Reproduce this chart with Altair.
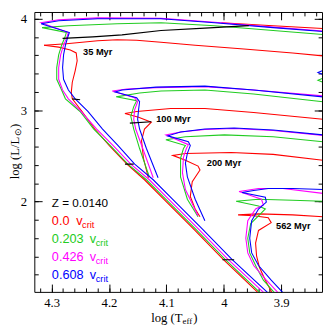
import altair as alt
import pandas as pd

# ---------------- axis ranges and ticks ----------------
T_DOMAIN = [3.829, 4.33]          # log Teff (drawn reversed)
L_DOMAIN = [1.0118, 4.0747]       # log L/Lsun
T_MAJOR = [4.3, 4.2, 4.1, 4.0, 3.9]
T_MINOR = [4.32, 4.30, 4.28, 4.26, 4.24, 4.22, 4.20, 4.18, 4.16, 4.14, 4.12, 4.10, 4.08,
           4.06, 4.04, 4.02, 4.00, 3.98, 3.96, 3.94, 3.92, 3.90, 3.88, 3.86, 3.84]
L_MAJOR = [2, 3, 4]
L_MINOR = [1.2, 1.4, 1.6, 1.8, 2.0, 2.2, 2.4, 2.6, 2.8, 3.0, 3.2, 3.4, 3.6, 3.8, 4.0]

# ---------------- isochrones: 35 Myr ----------------
R35_T = [3.9328, 4.0007, 4.0550, 4.1060, 4.1382, 4.1688, 4.1994, 4.2248, 4.2469, 4.2639, 4.2656, 4.2639, 4.2588, 4.2554, 4.2571, 4.2673, 4.2876, 4.3131]
R35_L = [0.9584, 1.3639, 1.7161, 2.0363, 2.2390, 2.4098, 2.6126, 2.7940, 2.9861, 3.1248, 3.1995, 3.3062, 3.4343, 3.5410, 3.6264, 3.6584, 3.6904, 3.7118]
R35X_T = [4.3131, 4.2741, 4.2197, 4.1858, 4.1518, 4.1094, 4.0499, 3.9650, 3.8802, 3.8275]
R35X_L = [3.7118, 3.7278, 3.7598, 3.7705, 3.7651, 3.7438, 3.7118, 3.6691, 3.6264, 3.5944]
R35U_T = [4.0041, 3.9141, 3.8275]
R35U_L = [3.9572, 3.9252, 3.8932]
G35_T = [3.9294, 3.9973, 4.0516, 4.1026, 4.1348, 4.1671, 4.1977, 4.2265, 4.2503, 4.2758, 4.2825, 4.2910, 4.2910, 4.2876, 4.2825, 4.2774, 4.2741, 4.3165, 4.2707, 4.1858, 4.1094, 4.0160, 3.9141, 3.8275]
G35_L = [0.9584, 1.3639, 1.7161, 2.0363, 2.2390, 2.4098, 2.6126, 2.7940, 2.9861, 3.1248, 3.2209, 3.3383, 3.4663, 3.6051, 3.7118, 3.7865, 3.8505, 3.9039, 3.9252, 3.9466, 3.9572, 3.9252, 3.8719, 3.8292]
M35_T = [3.9226, 3.9922, 4.0465, 4.0975, 4.1297, 4.1620, 4.1926, 4.2214, 4.2486, 4.2707, 4.2808, 4.2876, 4.2876, 4.2842, 4.2791, 4.2741, 4.2707, 4.3182, 4.2876, 4.2197, 4.1094, 4.0160, 3.9141, 3.8275]
M35_L = [0.9584, 1.3639, 1.7161, 2.0363, 2.2390, 2.4098, 2.6126, 2.7940, 2.9861, 3.1248, 3.2209, 3.3383, 3.4663, 3.6051, 3.7118, 3.7865, 3.8505, 3.9572, 3.9892, 4.0106, 4.0053, 3.9626, 3.9092, 3.8666]
B35_T = [3.9158, 3.9854, 4.0398, 4.0907, 4.1230, 4.1552, 4.1841, 4.2112, 4.2367, 4.2588, 4.2707, 4.2791, 4.2808, 4.2791, 4.2758, 4.2724, 4.2690, 4.3182, 4.2876, 4.2197, 4.1094, 4.0160, 3.9141, 3.8275]
B35_L = [0.9584, 1.3639, 1.7161, 2.0363, 2.2390, 2.4098, 2.6126, 2.7940, 2.9861, 3.1248, 3.2209, 3.3383, 3.4663, 3.6051, 3.7118, 3.7865, 3.8505, 3.9466, 3.9786, 4.0000, 4.0000, 3.9572, 3.9039, 3.8612]
K35_T = [4.2808, 4.2282, 4.1773, 4.1094, 4.0330, 3.9566]
K35_L = [3.7865, 3.8025, 3.8238, 3.8719, 3.8985, 3.9252]

# ---------------- 100 Myr ----------------
R100_T = [4.1314, 4.1399, 4.1433, 4.1382, 4.1263, 4.1484, 4.1722, 4.1518, 4.0924, 4.0330, 3.9481, 3.8275]
R100_L = [2.2604, 2.4738, 2.6659, 2.7940, 2.8687, 2.9221, 2.9647, 2.9861, 3.0181, 3.0181, 2.9754, 2.9007]
G100_T = [4.1297, 4.1467, 4.1569, 4.1620, 4.1569, 4.1518, 4.1875, 4.1467, 4.1094, 4.0330, 3.9481, 3.8275]
G100_L = [2.2711, 2.5805, 2.7940, 2.9327, 3.0394, 3.1035, 3.1462, 3.1888, 3.2102, 3.2209, 3.1782, 3.0928]
M100_T = [4.1230, 4.1399, 4.1535, 4.1569, 4.1552, 4.1501, 4.1552, 4.1943, 4.1688, 4.1179, 4.0330, 3.9481, 3.8275]
M100_L = [2.2604, 2.5592, 2.7940, 2.9007, 3.0074, 3.0928, 3.1355, 3.2102, 3.2315, 3.2475, 3.2582, 3.2209, 3.1568]
B100_T = [4.1145, 4.1348, 4.1467, 4.1501, 4.1484, 4.1467, 4.1518, 4.1892, 4.1773, 4.1179, 4.0330, 3.9481, 3.8275]
B100_L = [2.2604, 2.5805, 2.7940, 2.9007, 3.0074, 3.0928, 3.1355, 3.1995, 3.2209, 3.2529, 3.2636, 3.2209, 3.1462]
K100_T = [4.1637, 4.1263]
K100_L = [2.8580, 2.8740]

# ---------------- 200 Myr ----------------
R200_T = [4.0415, 4.0499, 4.0584, 4.0550, 4.0415, 4.0449, 4.0669, 4.0890, 4.0669, 3.9871, 3.9141, 3.8275]
R200_L = [1.8335, 1.9189, 2.0576, 2.2177, 2.3458, 2.3884, 2.4525, 2.5058, 2.5272, 2.5379, 2.5165, 2.4525]
G200_T = [4.0449, 4.0635, 4.0754, 4.0754, 4.0703, 4.0669, 4.1009, 4.0669, 3.9990, 3.9141, 3.8275]
G200_L = [1.8335, 2.0256, 2.2711, 2.4738, 2.5805, 2.6126, 2.6766, 2.7086, 2.7300, 2.7086, 2.6553]
M200_T = [4.0449, 4.0669, 4.0720, 4.0703, 4.0652, 4.0618, 4.1009, 4.0754, 4.0330, 3.9820, 3.9141, 3.8275]
M200_L = [1.8442, 2.1323, 2.3137, 2.4845, 2.5805, 2.6232, 2.7300, 2.7620, 2.7887, 2.7993, 2.7780, 2.7246]
B200_T = [4.0330, 4.0499, 4.0635, 4.0669, 4.0635, 4.0584, 4.0618, 4.0975, 4.0754, 4.0330, 3.9820, 3.9141, 3.8275]
B200_L = [1.7908, 2.0256, 2.2711, 2.4205, 2.5272, 2.6126, 2.6553, 2.7193, 2.7620, 2.7940, 2.8047, 2.7833, 2.7300]

# ---------------- 562 Myr ----------------
R562_T = [3.9124, 3.9277, 3.9379, 3.9430, 3.9447, 3.9396, 3.9175, 3.9226, 3.9481, 3.9752, 3.9396, 3.8802, 3.8275]
R562_L = [0.9584, 1.1398, 1.2786, 1.4066, 1.5454, 1.6841, 1.7695, 1.8228, 1.8442, 1.8549, 1.8655, 1.8549, 1.8335]
G562_T = [3.9056, 3.9311, 3.9430, 3.9549, 3.9583, 3.9532, 3.9379, 3.9277, 3.9396, 3.9786, 3.9396, 3.8802, 3.8275]
G562_L = [0.9584, 1.1398, 1.2786, 1.4386, 1.5987, 1.7588, 1.8549, 1.9189, 1.9509, 2.0043, 2.0256, 2.0149, 2.0043]
M562_T = [3.8988, 3.9260, 3.9481, 3.9583, 3.9617, 3.9583, 3.9447, 3.9311, 3.9345, 3.9735, 3.9396, 3.8971, 3.8275]
M562_L = [0.9584, 1.1398, 1.2999, 1.4386, 1.5987, 1.7908, 1.9189, 1.9616, 2.0256, 2.1110, 2.1430, 2.1430, 2.0896]
B562_T = [3.8904, 3.9175, 3.9396, 3.9515, 3.9549, 3.9515, 3.9396, 3.9260, 3.9277, 3.9684, 3.9481, 3.9226, 3.8802, 3.8275]
B562_L = [0.9584, 1.1398, 1.2999, 1.4386, 1.5987, 1.7908, 1.9189, 1.9936, 2.0469, 2.1003, 2.1217, 2.1430, 2.1430, 2.1323]

# small loops at the right edge
BE_T = [3.8275, 3.8360, 3.8275]
BE_L = [3.4343, 3.4130, 3.3916]
GE_T = [3.8275, 3.8360, 3.8275]
GE_L = [3.3489, 3.3276, 3.3062]

# black markers on the main sequence
KT1_T = [4.2639, 4.2503]
KT1_L = [3.1248, 3.1141]
KT2_T = [4.1722, 4.1569]
KT2_L = [2.4098, 2.4098]
KT3_T = [4.0024, 3.9820]
KT3_L = [1.3639, 1.3639]

# ---------------- labels ----------------
AGE_TEXT = ["35 Myr", "100 Myr", "200 Myr", "562 Myr"]
AGE_T = [4.2452, 4.1179, 4.0296, 3.9090]
AGE_L = [3.6371, 2.9007, 2.4205, 1.7375]

LEG_TEXT = ["0.0", "0.203", "0.426", "0.608"]
LEG_T = [4.2995, 4.2995, 4.2995, 4.2995]
LEG_L = [1.7855, 1.5881, 1.3906, 1.1932]
LEG_V_T = [4.2571, 4.2333, 4.2333, 4.2333]
Z_TEXT = ["Z = 0.0140"]
Z_T = [4.2995]
Z_L = [1.9829]

XTITLE_T = [4.0720]
XTITLE_L = [0.7236]
YTITLE_T = [4.3640]
YTITLE_L = [2.7086]

COLORS = {"0.0": "#ff0000", "0.203": "#22cc22", "0.426": "#ff00ff", "0.608": "#0000ff"}

XS = alt.Scale(domain=T_DOMAIN, reverse=True, nice=False, zero=False)
YS = alt.Scale(domain=L_DOMAIN, nice=False, zero=False)


def table(series):
    rows = []
    for name, (T, L) in series.items():
        assert len(T) == len(L), name
        for i, (t, l) in enumerate(zip(T, L)):
            rows.append({"s": name, "i": i, "logT": t, "logL": l})
    return pd.DataFrame(rows)


def lines(series, color, width=1.1):
    return alt.Chart(table(series)).mark_line(clip=True, strokeWidth=width, color=color).encode(
        x=alt.X("logT:Q", scale=XS, axis=None),
        y=alt.Y("logL:Q", scale=YS, axis=None),
        detail="s:N",
        order="i:Q",
    )


red = lines({"r35": (R35_T, R35_L), "r35x": (R35X_T, R35X_L), "r35u": (R35U_T, R35U_L),
             "r100": (R100_T, R100_L), "r200": (R200_T, R200_L), "r562": (R562_T, R562_L)},
            COLORS["0.0"])
green = lines({"g35": (G35_T, G35_L), "g100": (G100_T, G100_L), "g200": (G200_T, G200_L),
               "g562": (G562_T, G562_L), "ge": (GE_T, GE_L)}, COLORS["0.203"])
magenta = lines({"m35": (M35_T, M35_L), "m100": (M100_T, M100_L), "m200": (M200_T, M200_L),
                 "m562": (M562_T, M562_L)}, COLORS["0.426"])
blue = lines({"b35": (B35_T, B35_L), "b100": (B100_T, B100_L), "b200": (B200_T, B200_L),
              "b562": (B562_T, B562_L), "be": (BE_T, BE_L)}, COLORS["0.608"])
black = lines({"k35": (K35_T, K35_L), "k100": (K100_T, K100_L), "kt1": (KT1_T, KT1_L),
               "kt2": (KT2_T, KT2_L), "kt3": (KT3_T, KT3_L)}, "black", 1.2)

age_df = pd.DataFrame({"logT": AGE_T, "logL": AGE_L, "t": AGE_TEXT})
ages = alt.Chart(age_df).mark_text(align="left", baseline="middle", font="Liberation Sans",
                                   fontWeight="bold", fontSize=9.5, color="black").encode(
    x=alt.X("logT:Q", scale=XS, axis=None), y=alt.Y("logL:Q", scale=YS, axis=None), text="t:N")

leg_df = pd.DataFrame({"logT": LEG_T, "logL": LEG_L, "vT": LEG_V_T, "t": LEG_TEXT,
                       "v": ["v"] * 4, "crit": ["crit"] * 4})
cscale = alt.Scale(domain=list(COLORS.keys()), range=list(COLORS.values()))
leg_vals = alt.Chart(leg_df).mark_text(align="left", baseline="middle", font="Liberation Sans",
                                       fontSize=13).encode(
    x=alt.X("logT:Q", scale=XS, axis=None), y=alt.Y("logL:Q", scale=YS, axis=None), text="t:N",
    color=alt.Color("t:N", scale=cscale, legend=None))
leg_v = alt.Chart(leg_df).mark_text(align="left", baseline="middle", font="Liberation Sans",
                                    fontSize=13).encode(
    x=alt.X("vT:Q", scale=XS, axis=None), y=alt.Y("logL:Q", scale=YS, axis=None), text="v:N",
    color=alt.Color("t:N", scale=cscale, legend=None))
leg_crit = alt.Chart(leg_df).mark_text(align="left", baseline="middle", font="Liberation Sans",
                                       fontSize=9.5, dx=6, dy=4).encode(
    x=alt.X("vT:Q", scale=XS, axis=None), y=alt.Y("logL:Q", scale=YS, axis=None), text="crit:N",
    color=alt.Color("t:N", scale=cscale, legend=None))
z_df = pd.DataFrame({"logT": Z_T, "logL": Z_L, "t": Z_TEXT})
zlab = alt.Chart(z_df).mark_text(align="left", baseline="middle", font="Liberation Sans",
                                 fontSize=12, color="black").encode(
    x=alt.X("logT:Q", scale=XS, axis=None), y=alt.Y("logL:Q", scale=YS, axis=None), text="t:N")

# axis titles with subscripts
xt_df = pd.DataFrame({"logT": XTITLE_T, "logL": XTITLE_L, "a": ["log (T"], "b": ["eff"], "c": [")"]})
yt_df = pd.DataFrame({"logT": YTITLE_T, "logL": YTITLE_L, "a": ["log (L/L"], "b": ["\u2299"], "c": [")"]})


def ttext(df, field, **kw):
    return alt.Chart(df).mark_text(font="Liberation Serif", color="black", baseline="middle", **kw).encode(
        x=alt.X("logT:Q", scale=XS, axis=None), y=alt.Y("logL:Q", scale=YS, axis=None), text=f"{field}:N")


xt = [ttext(xt_df, "a", align="right", fontSize=13),
      ttext(xt_df, "b", align="left", fontSize=9, dy=3),
      ttext(xt_df, "c", align="left", fontSize=13, dx=11)]
yt = [ttext(yt_df, "a", align="right", fontSize=13, angle=270),
      ttext(yt_df, "b", align="left", fontSize=9, angle=270, dx=1, dy=3),
      ttext(yt_df, "c", align="left", fontSize=13, angle=270, dx=9)]


# axes: labels + inward ticks on all four sides
def axis_layer(ax, ay):
    return alt.Chart(age_df).mark_point(opacity=0).encode(
        x=alt.X("logT:Q", scale=XS, axis=ax), y=alt.Y("logL:Q", scale=YS, axis=ay))


common = dict(title=None, grid=False, domain=False)
ax_labels = axis_layer(
    alt.Axis(orient="bottom", values=T_MAJOR, format="~g", ticks=False, tickSize=0, labelPadding=5,
             labelFlush=False, **common),
    alt.Axis(orient="left", values=L_MAJOR, format="~g", ticks=False, tickSize=0, labelPadding=8,
             labelFlush=False, **common))


def tick_axes(xorient, yorient, tv_x, tv_y, size):
    return axis_layer(
        alt.Axis(orient=xorient, values=tv_x, labels=False, tickSize=size, offset=-size, **common),
        alt.Axis(orient=yorient, values=tv_y, labels=False, tickSize=size, offset=-size, **common))


ax_bl_major = tick_axes("bottom", "left", T_MAJOR, L_MAJOR, 8)
ax_bl_minor = tick_axes("bottom", "left", T_MINOR, L_MINOR, 4)
ax_tr_major = tick_axes("top", "right", T_MAJOR, L_MAJOR, 8)
ax_tr_minor = tick_axes("top", "right", T_MINOR, L_MINOR, 4)

chart = alt.layer(
    ax_labels, ax_bl_major, ax_bl_minor, ax_tr_major, ax_tr_minor,
    red, green, magenta, blue, black,
    ages, zlab, leg_vals, leg_v, leg_crit, *xt, *yt,
).resolve_axis(x="independent", y="independent").properties(
    width=295, height=287,
    autosize=alt.AutoSizeParams(type="none"),
    padding={"left": 27, "top": 0, "right": 1, "bottom": 36},
).configure_view(stroke="black", strokeWidth=1).configure_axis(
    labelFont="Liberation Serif", labelFontSize=13, labelColor="black",
    tickColor="black", tickWidth=1,
)

chart.save("out.html", embed_options={"renderer": "svg", "actions": False})
